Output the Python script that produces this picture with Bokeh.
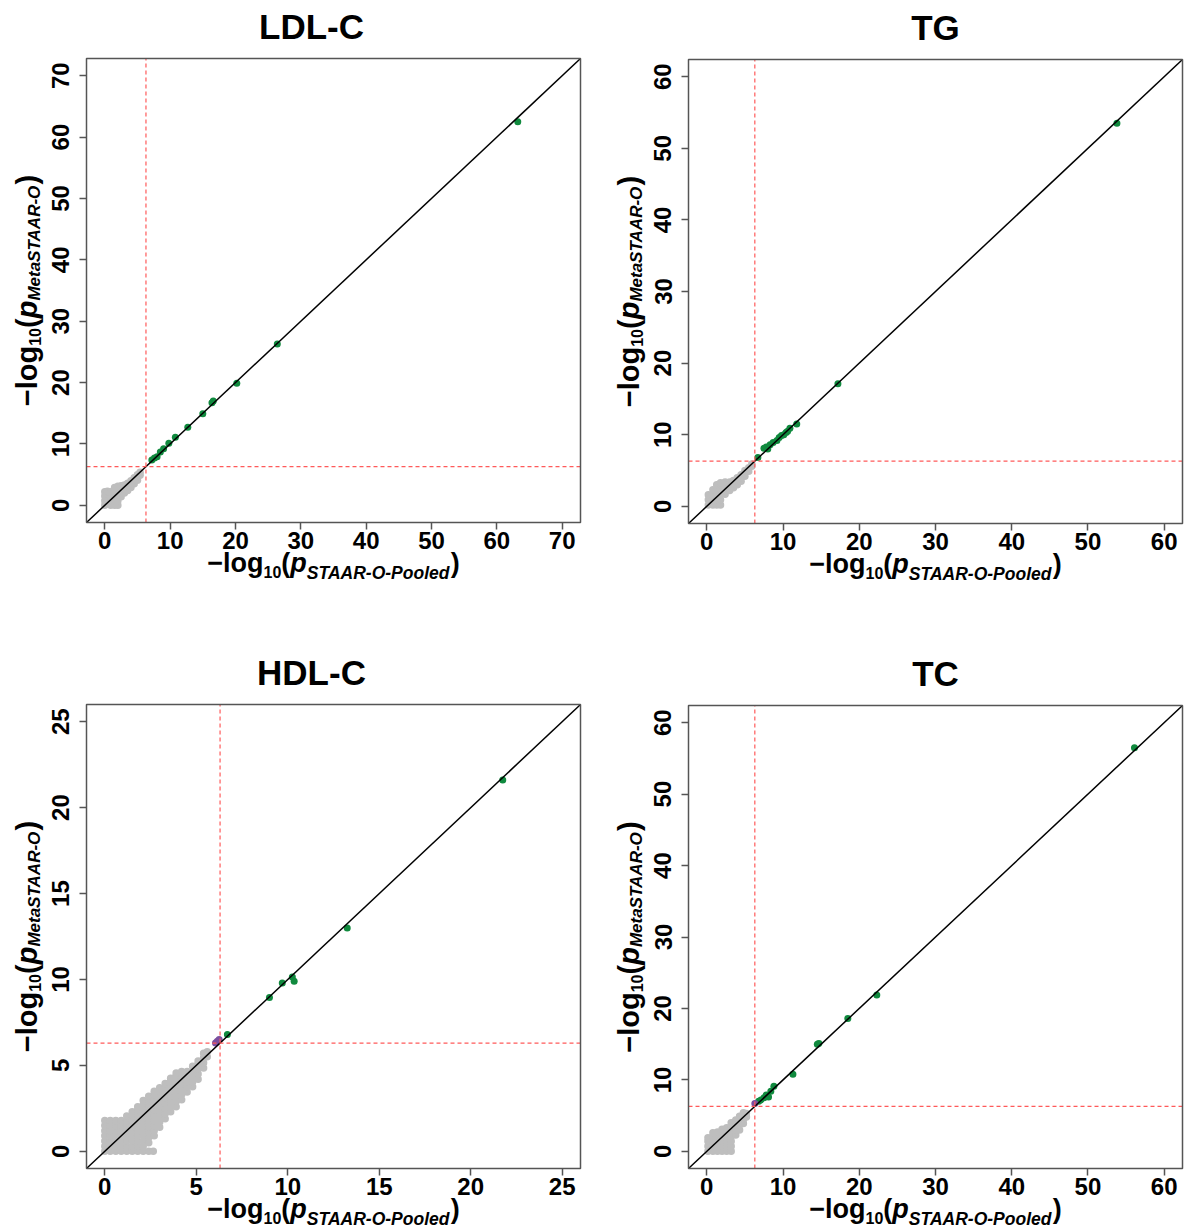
import math
from bokeh.plotting import figure
from bokeh.layouts import gridplot
from bokeh.models import FixedTicker, Range1d, Label
from bokeh.embed import file_html
from bokeh.resources import INLINE

FONT = "Liberation Sans"

titles = ["LDL-C", "TG", "HDL-C", "TC"]
threshold = 6.3

ldl_lim = [0, 70]
tg_lim = [0, 60]
hdl_lim = [0, 25]
tc_lim = [0, 60]
ldl_ticks = [0, 10, 20, 30, 40, 50, 60, 70]
tg_ticks = [0, 10, 20, 30, 40, 50, 60]
hdl_ticks = [0, 5, 10, 15, 20, 25]
tc_ticks = [0, 10, 20, 30, 40, 50, 60]

# significant (green) points
ldl_green_x = [7.2, 7.6, 8.0, 8.5, 9.0, 9.8, 10.8, 12.7, 15.0, 16.4, 16.6, 20.2, 26.4, 63.2]
ldl_green_y = [7.4, 7.7, 7.9, 8.7, 9.2, 10.1, 11.1, 12.7, 14.9, 16.7, 17.0, 19.9, 26.3, 62.5]
tg_green_x = [6.7, 7.5, 7.8, 8.0, 8.3, 8.7, 9.2, 9.5, 9.8, 10.1, 10.4, 10.6, 10.9, 11.8, 17.2, 53.8]
tg_green_y = [6.8, 8.1, 8.3, 8.0, 8.6, 8.9, 9.2, 9.6, 9.9, 10.0, 10.3, 10.5, 10.9, 11.5, 17.1, 53.5]
hdl_green_x = [6.7, 9.0, 9.7, 10.25, 10.35, 13.25, 21.75]
hdl_green_y = [6.8, 8.95, 9.8, 10.15, 9.9, 13.0, 21.6]
tc_green_x = [6.8, 7.1, 7.5, 7.8, 8.1, 8.4, 8.8, 11.3, 14.5, 14.7, 18.5, 22.3, 56.1]
tc_green_y = [7.0, 7.2, 7.5, 7.9, 7.6, 8.4, 9.1, 10.8, 15.0, 15.1, 18.6, 21.9, 56.5]

# near-threshold (purple) points
ldl_purple_x, ldl_purple_y = [], []
tg_purple_x, tg_purple_y = [], []
hdl_purple_x = [6.05, 6.15, 6.25]
hdl_purple_y = [6.3, 6.4, 6.5]
tc_purple_x = [6.3]
tc_purple_y = [6.7]

# non-significant (gray) points, read from the clouds
ldl_gray = [(0, 0), (0, 0.75), (0, 1.5), (0, 2.2),
            (0.4, 0.4), (0.4, 1.1), (0.4, 1.8), (0.4, 2.3),
            (0.9, 0), (0.9, 0.75), (0.9, 1.5), (0.9, 2.2),
            (1.5, 0), (1.5, 0.75), (1.5, 1.5), (1.5, 2.2), (1.5, 2.9),
            (2.0, 0), (2.0, 0.75), (2.0, 1.5), (2.0, 2.2), (2.0, 3.1),
            (2.5, 1.4), (2.5, 2.0), (2.5, 2.6), (2.5, 3.2),
            (3.0, 2.0), (3.0, 2.6), (3.0, 3.3),
            (3.5, 2.4), (3.5, 3.0), (3.5, 3.6),
            (4.0, 2.9), (4.0, 3.5), (4.0, 4.0),
            (4.5, 3.5), (4.5, 4.1), (4.5, 4.5),
            (5.0, 4.1), (5.0, 4.7), (5.0, 5.0),
            (5.4, 4.9), (5.4, 5.4)]
tg_gray = [(0.2, 0.2), (0.2, 0.9), (0.2, 1.6),
           (0.8, 0.2), (0.8, 0.9), (0.8, 1.6), (0.8, 2.3),
           (1.3, 0.2), (1.3, 0.9), (1.3, 1.6), (1.3, 2.3), (1.3, 3.0),
           (1.8, 0.2), (1.8, 0.9), (1.8, 1.6), (1.8, 2.3), (1.8, 3.0), (1.8, 3.3),
           (2.4, 1.7), (2.4, 2.3), (2.4, 2.9), (2.4, 3.4),
           (3.0, 2.2), (3.0, 2.8), (3.0, 3.4),
           (3.5, 2.6), (3.5, 3.1), (3.5, 3.6),
           (4.0, 3.0), (4.0, 3.5), (4.0, 4.0),
           (4.5, 3.5), (4.5, 4.0), (4.5, 4.4),
           (5.0, 4.2), (5.0, 4.7), (5.0, 5.0),
           (5.5, 4.9), (5.5, 5.4),
           (5.9, 5.6), (5.9, 5.9)]
hdl_gray = [(0, 0), (0, 0.3), (0, 0.6), (0, 0.9), (0, 1.2), (0, 1.5), (0, 1.8),
            (0.3, 0), (0.3, 0.3), (0.3, 0.6), (0.3, 0.9), (0.3, 1.2), (0.3, 1.5), (0.3, 1.8),
            (0.6, 0), (0.6, 0.3), (0.6, 0.6), (0.6, 0.9), (0.6, 1.2), (0.6, 1.5), (0.6, 1.8),
            (0.9, 0), (0.9, 0.3), (0.9, 0.6), (0.9, 0.9), (0.9, 1.2), (0.9, 1.5), (0.9, 1.8),
            (1.2, 0), (1.2, 0.3), (1.2, 0.6), (1.2, 0.9), (1.2, 1.2), (1.2, 1.5), (1.2, 1.8), (1.2, 2.05),
            (1.5, 0), (1.5, 0.3), (1.5, 0.6), (1.5, 0.9), (1.5, 1.2), (1.5, 1.5), (1.5, 1.8), (1.5, 2.1), (1.5, 2.3),
            (1.8, 0), (1.8, 0.3), (1.8, 0.6), (1.8, 0.9), (1.8, 1.2), (1.8, 1.5), (1.8, 1.8), (1.8, 2.1), (1.8, 2.4), (1.8, 2.6),
            (2.1, 0), (2.1, 0.3), (2.1, 0.6), (2.1, 0.9), (2.1, 1.2), (2.1, 1.5), (2.1, 1.8), (2.1, 2.1), (2.1, 2.4), (2.1, 2.7), (2.1, 2.95),
            (2.4, 0), (2.4, 0.5), (2.4, 0.8), (2.4, 1.1), (2.4, 1.4), (2.4, 1.7), (2.4, 2.0), (2.4, 2.3), (2.4, 2.6), (2.4, 2.9), (2.4, 3.2),
            (2.65, 0),
            (2.7, 0.9), (2.7, 1.2), (2.7, 1.5), (2.7, 1.8), (2.7, 2.1), (2.7, 2.4), (2.7, 2.7), (2.7, 3.0), (2.7, 3.3), (2.7, 3.5),
            (3.0, 1.4), (3.0, 1.7), (3.0, 2.0), (3.0, 2.3), (3.0, 2.6), (3.0, 2.9), (3.0, 3.2), (3.0, 3.5), (3.0, 3.7),
            (3.3, 1.9), (3.3, 2.2), (3.3, 2.5), (3.3, 2.8), (3.3, 3.1), (3.3, 3.4), (3.3, 3.7), (3.3, 3.95),
            (3.6, 2.3), (3.6, 2.6), (3.6, 2.9), (3.6, 3.2), (3.6, 3.5), (3.6, 3.8), (3.6, 4.1), (3.6, 4.25),
            (3.9, 2.6), (3.9, 2.9), (3.9, 3.2), (3.9, 3.5), (3.9, 3.8), (3.9, 4.1), (3.9, 4.4), (3.9, 4.55),
            (4.2, 3.0), (4.2, 3.3), (4.2, 3.6), (4.2, 3.9), (4.2, 4.2), (4.2, 4.5), (4.2, 4.65),
            (4.5, 3.45), (4.5, 3.75), (4.5, 4.05), (4.5, 4.35), (4.5, 4.65),
            (4.8, 3.75), (4.8, 4.05), (4.8, 4.35), (4.8, 4.65), (4.8, 4.95),
            (5.1, 4.2), (5.1, 4.5), (5.1, 4.8), (5.1, 5.1), (5.1, 5.25),
            (5.4, 4.85), (5.4, 5.15), (5.4, 5.45), (5.4, 5.7),
            (5.6, 5.5), (5.6, 5.8)]
tc_gray = [(0.15, 0), (0.15, 0.7), (0.15, 1.4), (0.15, 1.9),
           (0.8, 0), (0.8, 0.7), (0.8, 1.4), (0.8, 2.1), (0.8, 2.6),
           (1.4, 0), (1.4, 0.7), (1.4, 1.4), (1.4, 2.1), (1.4, 2.7),
           (2.0, 0), (2.0, 0.7), (2.0, 1.4), (2.0, 2.1), (2.0, 2.8), (2.0, 3.1),
           (2.6, 0), (2.6, 0.7), (2.6, 1.4), (2.6, 2.1), (2.6, 2.8), (2.6, 3.3),
           (3.2, 0), (3.2, 0.7), (3.2, 1.4), (3.2, 2.1), (3.2, 2.8), (3.2, 3.5), (3.2, 4.0),
           (3.8, 2.3), (3.8, 3.0), (3.8, 3.7), (3.8, 4.4),
           (4.3, 3.0), (4.3, 3.7), (4.3, 4.4), (4.3, 4.9),
           (4.8, 3.9), (4.8, 4.5), (4.8, 5.1), (4.8, 5.4),
           (5.2, 4.8), (5.2, 5.3)]

GRAY = "#bebebe"
GREEN = "#108a3e"
PURPLE = "#7b4f9f"
RED = "#ff5a5a"
FRAME = "#555555"

# Liberation Sans Bold advance widths (per 1000 em)
ADV = {"\u2212": 584, "l": 278, "o": 611, "g": 611, "1": 556, "0": 556, "(": 333, ")": 333,
       "p": 611, "S": 667, "T": 611, "A": 722, "R": 722, "-": 333, "O": 778, "P": 667,
       "e": 556, "d": 611, "M": 833, "t": 333, "a": 556}
MID = 0.3465  # baseline sits this many em below the middle of the text box


def text_w(s, size):
    return sum(ADV.get(c, 600) for c in s) * size / 1000.0


# (text, font px, style, baseline drop px)
XLAB = [("\u2212log", 27, "bold", 0), ("10", 16, "bold", 5), ("(", 27, "bold", 0),
        ("p", 27, "bold italic", 0), ("STAAR-O-Pooled", 17.5, "bold italic", 7), (")", 27, "bold", 0)]
YLAB = [("\u2212log", 29, "bold", 0), ("10", 16, "bold", 3), ("(", 29, "bold", 0),
        ("p", 29, "bold italic", 0), ("MetaSTAAR-O", 17, "bold italic", 3), (")", 29, "bold", 0)]


def corner_label(p, ax, ay, dx, dy, text, size, style, angle=0.0, align="left"):
    p.add_layout(Label(x=ax, y=ay, x_units="data", y_units="data", x_offset=dx, y_offset=dy,
                       text=text, angle=angle, text_font=FONT, text_font_size=f"{size}px",
                       text_font_style=style, text_align=align, text_baseline="middle",
                       text_color="black"))


def make_panel(title, lim, ticks, gray, gx, gy, px, py, box, title_cx=None):
    # box = pixel margins of the plotting box inside the 594x614 panel
    bl, br, bt, bb = box
    W, H = 594, 614
    fw, fh = W - bl - br, H - bt - bb
    pad = 0.04 * (lim[1] - lim[0])
    lo, hi = lim[0] - pad, lim[1] + pad
    kx, ky = fw / (hi - lo), fh / (hi - lo)
    p = figure(width=W, height=H,
               x_range=Range1d(lo - bl / kx, hi + br / kx),
               y_range=Range1d(lo - bb / ky, hi + bt / ky),
               output_backend="svg", toolbar_location=None, min_border=0)
    p.min_border_left = 0
    p.min_border_right = 0
    p.min_border_top = 0
    p.min_border_bottom = 0
    p.outline_line_color = None
    p.grid.visible = False
    p.xaxis.fixed_location = lo
    p.yaxis.fixed_location = lo
    for ax in (p.xaxis[0], p.yaxis[0]):
        ax.ticker = FixedTicker(ticks=ticks)
        ax.axis_line_color = None
        ax.major_tick_out = 7
        ax.major_tick_in = 0
        ax.minor_tick_out = 0
        ax.minor_tick_in = 0
        ax.major_tick_line_color = FRAME
        ax.major_tick_line_width = 1.5
        ax.major_label_text_font = FONT
        ax.major_label_text_font_size = "24px"
        ax.major_label_text_font_style = "bold"
        ax.major_label_text_color = "black"
    p.xaxis.major_label_standoff = 2
    p.yaxis.major_label_orientation = "vertical"
    p.yaxis.major_label_standoff = 10

    p.scatter([g[0] for g in gray], [g[1] for g in gray], size=7.5,
              fill_color=GRAY, line_color=None)
    p.scatter(gx, gy, size=7, fill_color=GREEN, line_color=None)
    if px:
        p.scatter(px, py, size=7, fill_color=PURPLE, line_color=None)

    # identity line and significance thresholds, spanning the plotting box
    p.line([lo, hi], [lo, hi], line_color="black", line_width=1.5)
    p.segment(x0=[threshold, lo], y0=[lo, threshold], x1=[threshold, hi], y1=[hi, threshold],
              line_color=RED, line_dash="4 3", line_width=1.2)
    # plotting box
    p.quad(left=[lo], right=[hi], bottom=[lo], top=[hi], fill_color=None,
           line_color=FRAME, line_width=1.5)

    # title: baseline 19.5 px above the box
    cx = fw / 2.0 if title_cx is None else title_cx
    corner_label(p, lo, hi, cx, 19.5 + MID * 35, title, 35, "bold", align="center")

    # x label: baseline 50 px below the box
    total = sum(text_w(t, s) for t, s, _, _ in XLAB)
    x0 = fw / 2.0 - total / 2.0
    for t, s, st, d in XLAB:
        corner_label(p, lo, lo, x0, -50 - d + MID * s, t, s, st)
        x0 += text_w(t, s)
    # y label: baseline 49 px left of the box, reading upward
    total = sum(text_w(t, s) for t, s, _, _ in YLAB)
    y0 = fh / 2.0 - total / 2.0
    for t, s, st, d in YLAB:
        corner_label(p, lo, lo, -49 + d - MID * s, y0, t, s, st, angle=math.pi / 2)
        y0 += text_w(t, s)
    return p


p1 = make_panel(titles[0], ldl_lim, ldl_ticks, ldl_gray, ldl_green_x, ldl_green_y,
                ldl_purple_x, ldl_purple_y, (86, 14, 58, 92), title_cx=225)
p2 = make_panel(titles[1], tg_lim, tg_ticks, tg_gray, tg_green_x, tg_green_y,
                tg_purple_x, tg_purple_y, (94, 6, 59, 91))
p3 = make_panel(titles[2], hdl_lim, hdl_ticks, hdl_gray, hdl_green_x, hdl_green_y,
                hdl_purple_x, hdl_purple_y, (86, 14, 90, 60), title_cx=225)
p4 = make_panel(titles[3], tc_lim, tc_ticks, tc_gray, tc_green_x, tc_green_y,
                tc_purple_x, tc_purple_y, (94, 6, 91, 60))

grid = gridplot([[p1, p2], [p3, p4]], toolbar_location=None)

open("out.html", "w").write(file_html(grid, INLINE))
